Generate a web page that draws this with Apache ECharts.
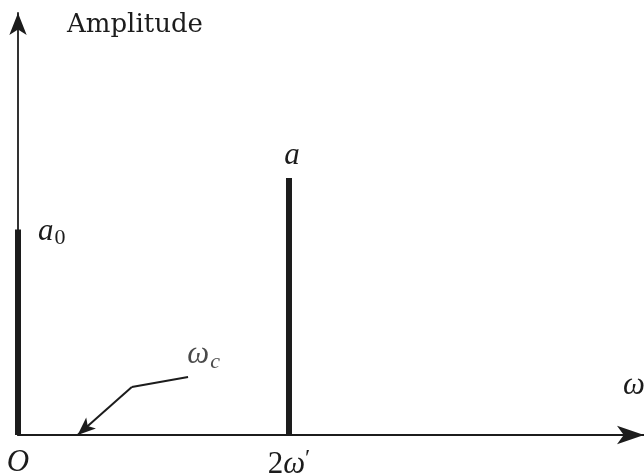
<!DOCTYPE html>
<html>
<head>
<meta charset="utf-8">
<script src="https://cdn.jsdelivr.net/npm/echarts@6/dist/echarts.min.js"></script>
<style>
  html, body { margin: 0; padding: 0; background: #fff; }
  #chart { width: 644px; height: 475px; }
</style>
</head>
<body>
<div id="chart"></div>
<script>
// Spectral lines: frequency position (units of ω') and amplitude (relative to a)
const lineFreqs = [0, 2];
const lineAmps = [0.8, 1.0];
const lineNames = ['a0', 'a'];

// Tick labels along the frequency axis
const tickLabels = { 0: 'O', 2: '2ω′' };

// Leader line pointing at the cutoff frequency ω_c (frequency, amplitude)
const cutoffLeader = [[1.255, 0.226], [0.84, 0.187], [0.44, 0.0]];
const cutoffLabelPos = [1.37, 0.31];

const INK = '#1c1c1c';
const MATH_FONT = '"Liberation Serif", "DejaVu Serif", serif';
const MATH_SIZE = 31;

const chart = echarts.init(document.getElementById('chart'), null, { renderer: 'canvas' });

const lineData = lineFreqs.map((f, i) => ({ value: [f, lineAmps[i]], name: lineNames[i] }));

chart.setOption({
  animation: false,
  backgroundColor: '#fff',
  grid: { left: 18, right: 0, top: 13, bottom: 40, containLabel: false, outerBoundsMode: 'none' },
  xAxis: {
    type: 'value',
    min: 0,
    max: 4.62,
    interval: 2,
    name: 'ω',
    nameLocation: 'end',
    nameGap: -10,
    nameTextStyle: {
      fontFamily: MATH_FONT, fontStyle: 'italic', fontSize: MATH_SIZE, color: INK,
      verticalAlign: 'bottom', align: 'center', padding: [0, 0, 34, 0]
    },
    axisLine: {
      show: true,
      lineStyle: { color: INK, width: 1.8 },
      symbol: ['none', 'arrow'],
      symbolSize: [14, 27]
    },
    axisTick: { show: false },
    splitLine: { show: false },
    axisLabel: {
      margin: 12,
      color: INK,
      fontSize: MATH_SIZE,
      fontFamily: MATH_FONT,
      formatter: v => {
        const t = tickLabels[v];
        if (!t) return '';
        if (v === 0) return '{it|O}';
        return '{up|2}{it|ω}{sup|′}';
      },
      rich: {
        it: { fontFamily: MATH_FONT, fontStyle: 'italic', fontSize: MATH_SIZE, color: INK },
        up: { fontFamily: MATH_FONT, fontSize: MATH_SIZE, color: INK },
        sup: { fontFamily: MATH_FONT, fontSize: 24, color: INK, verticalAlign: 'top', padding: [0, 0, 12, 0] }
      }
    }
  },
  yAxis: {
    type: 'value',
    min: 0,
    max: 1.642,
    name: 'Amplitude',
    nameLocation: 'end',
    nameGap: -12,
    nameTextStyle: {
      fontFamily: '"DejaVu Serif", serif', fontSize: 26, color: INK,
      align: 'left', verticalAlign: 'middle', padding: [0, 0, 0, 49]
    },
    axisLine: {
      show: true,
      lineStyle: { color: INK, width: 1.8 },
      symbol: ['none', 'arrow'],
      symbolSize: [13, 22]
    },
    axisTick: { show: false },
    axisLabel: { show: false },
    splitLine: { show: false }
  },
  series: [
    {
      type: 'bar',
      data: lineData,
      barWidth: 6,
      clip: false,
      itemStyle: { color: INK },
      label: {
        show: true,
        color: INK,
        formatter: p => p.name === 'a0' ? '{it|a}{sub|0}' : '{it|a}',
        rich: {
          it: { fontFamily: MATH_FONT, fontStyle: 'italic', fontSize: MATH_SIZE, color: INK },
          sub: { fontFamily: MATH_FONT, fontSize: 22, color: INK, padding: [14, 0, 0, 1] }
        }
      },
      markLine: {
        silent: true,
        animation: false,
        label: { show: false },
        lineStyle: { color: INK, width: 2, type: 'solid' },
        data: [
          [
            { coord: cutoffLeader[0], symbol: 'none' },
            { coord: cutoffLeader[1], symbol: 'none' }
          ],
          [
            { coord: cutoffLeader[1], symbol: 'none' },
            { coord: cutoffLeader[2], symbol: 'arrow', symbolSize: [11, 18] }
          ]
        ]
      }
    },
    {
      type: 'scatter',
      data: [{ value: cutoffLabelPos }],
      symbolSize: 0,
      silent: true,
      label: {
        show: true,
        position: 'inside',
        formatter: '{it|ω}{sub|c}',
        rich: {
          it: { fontFamily: MATH_FONT, fontStyle: 'italic', fontSize: MATH_SIZE, color: INK },
          sub: { fontFamily: MATH_FONT, fontStyle: 'italic', fontSize: 22, color: INK, padding: [14, 0, 0, 1] }
        }
      }
    }
  ]
});

// Per-bar label placement: a0 sits to the right of its line, a sits above its line
chart.setOption({
  series: [{
    data: lineData.map(d => d.name === 'a0'
      ? Object.assign({}, d, { label: { position: [23, -16] } })
      : Object.assign({}, d, { label: { position: 'top', distance: 7, offset: [3, 0] } }))
  }]
});
</script>
</body>
</html>
